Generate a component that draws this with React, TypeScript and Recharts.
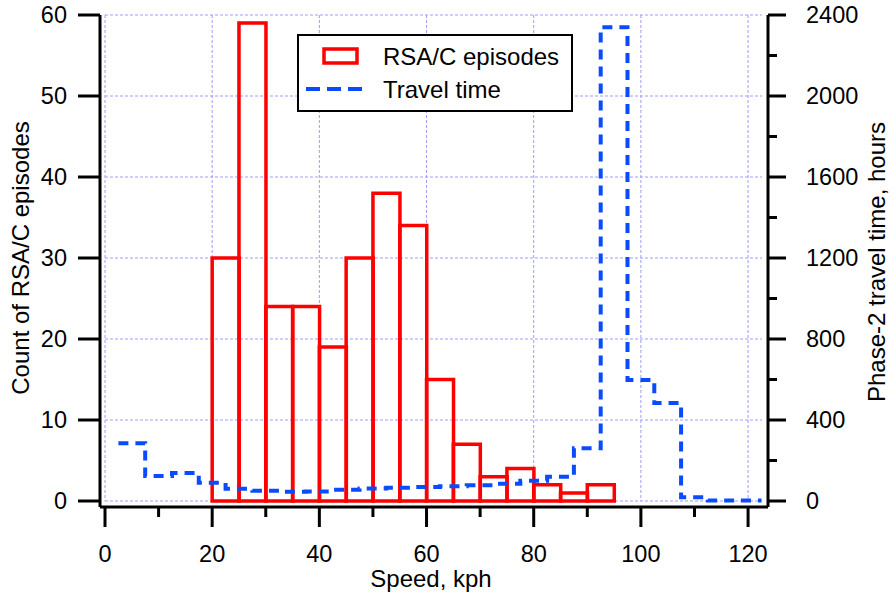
import React from 'react';
import { ComposedChart, Bar, Line, XAxis, YAxis, CartesianGrid, Legend, Label } from 'recharts';

// RSA/C episodes per 5 kph speed bin (bin centres)
const binCenters = [22.5, 27.5, 32.5, 37.5, 42.5, 47.5, 52.5, 57.5, 62.5, 67.5, 72.5, 77.5, 82.5, 87.5, 92.5];
const episodeCounts = [30, 59, 24, 24, 19, 30, 38, 34, 15, 7, 3, 4, 2, 1, 2];

// phase-2 travel time, step edges and hours per bin
const travelEdges = [2.5, 7.5, 12.5, 17.5, 22.5, 27.5, 32.5, 37.5, 42.5, 47.5, 52.5, 57.5, 62.5, 67.5, 72.5, 77.5, 82.5, 87.5, 92.5, 97.5, 102.5, 107.5, 112.5, 117.5, 122.5];
const travelHours = [285, 123, 138, 90, 61, 51, 46, 47, 55, 62, 66, 69, 73, 78, 85, 100, 120, 260, 2340, 597, 484, 18, 3, 2];

const speedTicks = [0, 10, 20, 30, 40, 50, 60, 70, 80, 90, 100, 110, 120];
const speedLabels = [0, 20, 40, 60, 80, 100, 120];
const countTicks = [0, 10, 20, 30, 40, 50, 60];
const hoursTicks = [0, 200, 400, 600, 800, 1000, 1200, 1400, 1600, 1800, 2000, 2200, 2400];
const hoursLabels = [0, 400, 800, 1200, 1600, 2000, 2400];

const seriesNames = ['RSA/C episodes', 'Travel time'];

const barData = binCenters.map((speed, i) => ({ speed, episodes: episodeCounts[i] }));
const travelData = travelEdges.map((speed, i) => ({
  speed,
  hours: travelHours[Math.min(i, travelHours.length - 1)],
}));

const FONT = '"Liberation Sans", Arial, Helvetica, sans-serif';
const RED = '#ff0000';
const BLUE = '#0a4bff';

const SpeedTick = (props: any) => {
  const { x, y, payload } = props;
  const major = speedLabels.includes(payload.value);
  return (
    <g>
      <line x1={x} y1={y} x2={x} y2={y + (major ? 20 : 10)} stroke="#000" strokeWidth={3} />
      {major && (
        <text x={x} y={y + 55} textAnchor="middle" fontSize={23.5} fill="#000" fontFamily={FONT}>
          {payload.value}
        </text>
      )}
    </g>
  );
};

const HoursTick = (props: any) => {
  const { x, y, payload } = props;
  const major = hoursLabels.includes(payload.value);
  return (
    <g>
      <line x1={x} y1={y} x2={x + (major ? 18 : 9)} y2={y} stroke="#000" strokeWidth={3} />
      {major && (
        <text x={x + 38} y={y} dy="0.355em" textAnchor="start" fontSize={23.5} fill="#000" fontFamily={FONT}>
          {payload.value}
        </text>
      )}
    </g>
  );
};

const LegendBox = (props: any) => {
  const items = seriesNames
    .map((n) => (props.payload || []).find((p: any) => p.value === n))
    .filter(Boolean);
  return (
    <svg width={276} height={78} style={{ display: 'block' }}>
      <rect x={1} y={1} width={274} height={76} fill="#fff" stroke="#000" strokeWidth={2} />
      {items.map((p: any, i: number) => {
        const cy = 22 + i * 33;
        const color = p.payload?.stroke ?? p.color;
        return (
          <g key={p.value}>
            {p.type === 'line' ? (
              <line x1={9} y1={cy} x2={72} y2={cy} stroke={color} strokeWidth={4} strokeDasharray="14 7" />
            ) : (
              <rect x={27} y={cy - 7} width={33} height={14} fill="none" stroke={color} strokeWidth={3.5} />
            )}
            <text x={86} y={cy} dy="0.355em" fontSize={24} fill="#000" fontFamily={FONT}>
              {p.value}
            </text>
          </g>
        );
      })}
    </svg>
  );
};

export default function App() {
  return (
    <div style={{ position: 'relative', width: 896, height: 599, background: '#fff' }}>
      <style>{'body{margin:0;background:#fff}'}</style>
      <ComposedChart
        width={896}
        height={599}
        data={barData}
        margin={{ top: 15, right: 0, bottom: 0, left: 0 }}
        barCategoryGap={0}
        barGap={0}
        style={{ fontFamily: FONT }}
      >
        <CartesianGrid
          yAxisId="left"
          x={105}
          y={15}
          width={657}
          height={486}
          stroke="#9d9dff"
          strokeDasharray="3 2"
          verticalValues={speedLabels}
        />
        <XAxis
          type="number"
          dataKey="speed"
          domain={[0, 122.6]}
          ticks={speedTicks}
          interval={0}
          padding={{ left: 5, right: 6 }}
          height={92}
          tickSize={0}
          tickMargin={0}
          tickLine={false}
          axisLine={{ stroke: '#000', strokeWidth: 3 }}
          tick={SpeedTick}
        >
          <Label
            content={() => (
              <text x={431} y={587} textAnchor="middle" fontSize={24} fill="#000" fontFamily={FONT}>
                Speed, kph
              </text>
            )}
          />
        </XAxis>
        <XAxis
          xAxisId="bars"
          type="number"
          dataKey="speed"
          domain={[0, 122.6]}
          padding={{ left: 5, right: 6 }}
          hide
        />
        <YAxis
          yAxisId="left"
          domain={[0, 60]}
          ticks={countTicks}
          interval={0}
          width={100}
          padding={{ top: 0, bottom: 6 }}
          tickSize={22}
          tickMargin={11}
          tickLine={{ stroke: '#000', strokeWidth: 3 }}
          axisLine={{ stroke: '#000', strokeWidth: 3 }}
          tick={{ fill: '#000', fontSize: 23.5, fontFamily: FONT }}
        >
          <Label
            content={() => (
              <text x={29} y={258} transform="rotate(-90 29 258)" textAnchor="middle" fontSize={24} fill="#000" fontFamily={FONT}>
                Count of RSA/C episodes
              </text>
            )}
          />
        </YAxis>
        <YAxis
          yAxisId="right"
          orientation="right"
          domain={[0, 2400]}
          ticks={hoursTicks}
          interval={0}
          width={128}
          padding={{ top: 0, bottom: 6 }}
          tickSize={0}
          tickMargin={0}
          tickLine={false}
          axisLine={{ stroke: '#000', strokeWidth: 3 }}
          tick={HoursTick}
        >
          <Label
            content={() => (
              <text x={885} y={262} transform="rotate(-90 885 262)" textAnchor="middle" fontSize={24} fill="#000" fontFamily={FONT}>
                Phase-2 travel time, hours
              </text>
            )}
          />
        </YAxis>
        <Legend
          layout="horizontal"
          verticalAlign="middle"
          align="center"
          wrapperStyle={{ left: 297, top: 34, width: 276, height: 78 }}
          content={LegendBox}
        />
        <Bar
          xAxisId="bars"
          yAxisId="left"
          dataKey="episodes"
          name="RSA/C episodes"
          fill="none"
          stroke={RED}
          strokeWidth={3.5}
          isAnimationActive={false}
        />
        <Line
          yAxisId="right"
          data={travelData}
          dataKey="hours"
          name="Travel time"
          type="stepAfter"
          stroke={BLUE}
          strokeWidth={4}
          strokeDasharray="10 7"
          dot={false}
          activeDot={false}
          isAnimationActive={false}
        />
      </ComposedChart>
    </div>
  );
}
